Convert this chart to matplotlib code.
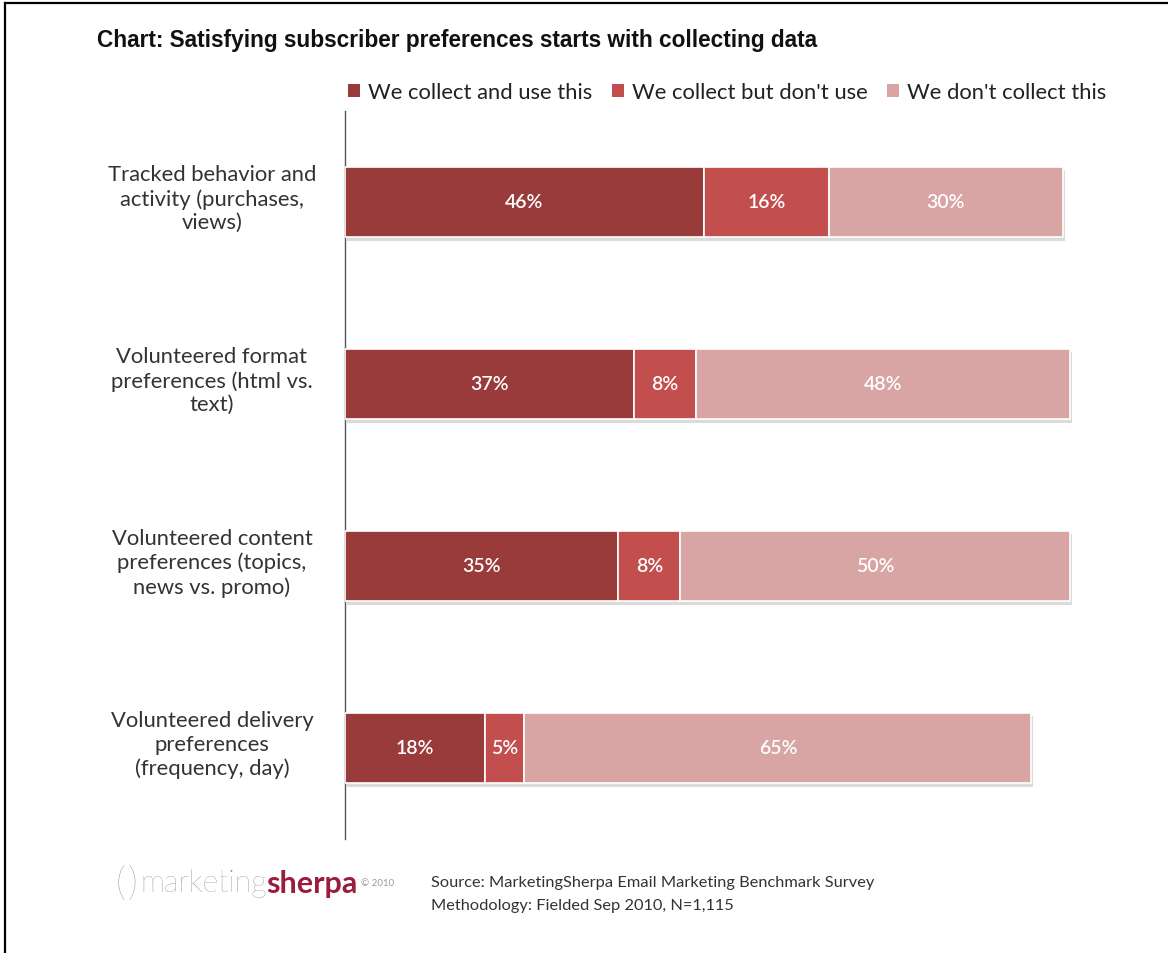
import matplotlib
matplotlib.use("Agg")
import matplotlib.pyplot as plt
import matplotlib.transforms as mtransforms
import matplotlib.patheffects as pe
from matplotlib.lines import Line2D
from matplotlib.patches import Patch

categories = [
    "Tracked behavior and\nactivity (purchases,\nviews)",
    "Volunteered format\npreferences (html vs.\ntext)",
    "Volunteered content\npreferences (topics,\nnews vs. promo)",
    "Volunteered delivery\npreferences\n(frequency, day)",
]
series_names = ["We collect and use this", "We collect but don't use", "We don't collect this"]
collect_use = [46, 37, 35, 18]
collect_not_use = [16, 8, 8, 5]
not_collect = [30, 48, 50, 65]
series = [collect_use, collect_not_use, not_collect]
colors = ["#9A3B3B", "#C24E4D", "#D8A4A4"]

W, H = 1168, 954
fig = plt.figure(figsize=(W / 100, H / 100), dpi=100)
fig.patch.set_facecolor("white")
ax = fig.add_axes([345 / W, 1 - 840 / H, 780 / W, (840 - 112) / H])

y = list(range(len(categories)))
left = [0] * len(categories)
for vals, col in zip(series, colors):
    bars = ax.barh(y, vals, left=left, height=0.39, color=col, edgecolor="white",
                   linewidth=1.2, zorder=3)
    for b in bars:
        b.set_path_effects([pe.SimplePatchShadow(offset=(1.5, -2.5), shadow_rgbFace="#999999", alpha=0.35),
                            pe.Normal()])
    for yi, l, v in zip(y, left, vals):
        ax.text(l + v / 2, yi, f"{v}%", ha="center", va="center", color="white",
                fontsize=14, fontweight="semibold", family="Lato", zorder=4)
    left = [a + b for a, b in zip(left, vals)]

ax.set_xlim(0, 100)
ax.set_ylim(3.5, -0.5)
for s in ["top", "right", "bottom"]:
    ax.spines[s].set_visible(False)
ax.spines["left"].set_color("#555555")
ax.spines["left"].set_linewidth(1.0)
ax.set_xticks([])
ax.set_yticks([])

trans = mtransforms.blended_transform_factory(fig.transFigure, ax.transData)
for yi, c in zip(y, categories):
    ax.text(212 / W, yi - 0.02, c, transform=trans, ha="center", va="center",
            fontsize=15.8, family="Lato", color="#333333", linespacing=1.22)

# Title
fig.text(97 / W, 1 - 41 / H, "Chart: Satisfying subscriber preferences starts with collecting data",
         ha="left", va="center", fontsize=16.3, fontweight="bold", family="Liberation Sans", color="#111111")

# Legend
handles = [Patch(facecolor=c, edgecolor="none") for c in colors]
leg = fig.legend(handles, series_names, loc="center", bbox_to_anchor=(727 / W, 1 - 93 / H),
                 ncol=3, frameon=False, handlelength=0.55, handleheight=0.55,
                 handletextpad=0.35, columnspacing=0.9, prop={"family": "Lato", "size": 15.8})
for t in leg.get_texts():
    t.set_color("#222222")

# Footer logo
fig.text(116 / W, 1 - 884 / H, "(", fontsize=28, family="Lato", color="#888888",
         ha="left", va="center", fontweight="light")
fig.text(127 / W, 1 - 884 / H, ")", fontsize=28, family="Lato", color="#888888",
         ha="left", va="center", fontweight="light")
t1 = fig.text(140 / W, 1 - 884 / H, "marketing", fontsize=22, family="Lato", color="#7a7a7a",
              ha="left", va="center", fontweight="light")
fig.canvas.draw()
bb = t1.get_window_extent()
t2 = fig.text(bb.x1 / W, 1 - 884 / H, "sherpa", fontsize=22, family="Lato", color="#9B1C3C",
              ha="left", va="center", fontweight="bold")
bb2 = t2.get_window_extent(renderer=fig.canvas.get_renderer())
fig.text(bb2.x1 / W + 0.003, 1 - 884 / H, "\u00a9 2010", fontsize=7, family="Lato", color="#999999",
         ha="left", va="center")

fig.text(431 / W, 1 - 883 / H, "Source: MarketingSherpa Email Marketing Benchmark Survey",
         fontsize=11.8, family="Lato", color="#333333", ha="left", va="center")
fig.text(431 / W, 1 - 906 / H, "Methodology: Fielded Sep 2010, N=1,115",
         fontsize=11.8, family="Lato", color="#333333", ha="left", va="center")

# Frame lines (top and left)
fig.add_artist(Line2D([5 / W, 1], [1 - 4 / H, 1 - 4 / H], transform=fig.transFigure, color="black", linewidth=1.6))
fig.add_artist(Line2D([5 / W, 5 / W], [0, 1 - 4 / H], transform=fig.transFigure, color="black", linewidth=1.6))

fig.savefig("out.png", dpi=100, facecolor="white")
